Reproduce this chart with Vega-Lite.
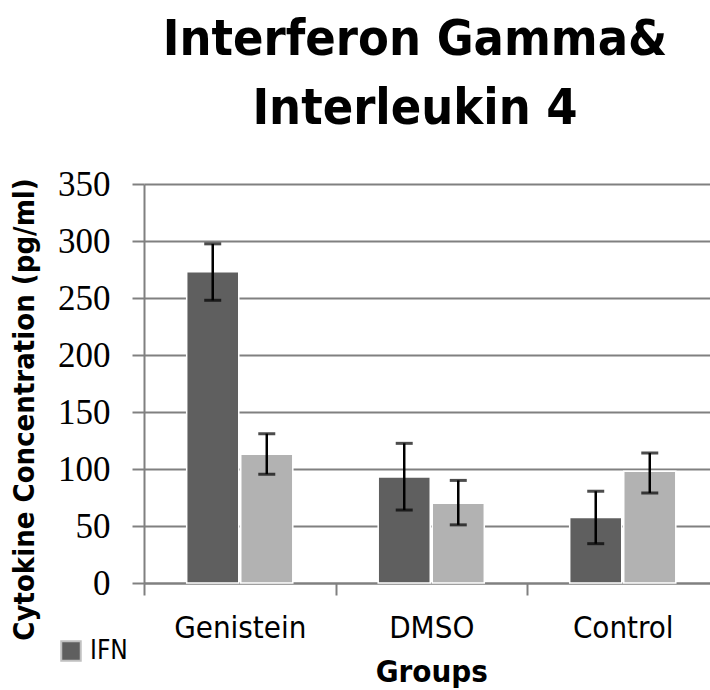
{
  "$schema": "https://vega.github.io/schema/vega-lite/v6.json",
  "autosize": {"type": "none"},
  "padding": {"left": 144, "top": 184, "right": 0, "bottom": 107},
  "width": 566,
  "height": 399,
  "background": "white",
  "title": {
    "text": ["Interferon Gamma&", "Interleukin 4"],
    "font": "DejaVu Sans Condensed, DejaVu Sans, sans-serif",
    "fontSize": 50,
    "fontWeight": "bold",
    "lineHeight": 69,
    "anchor": "middle",
    "frame": "group",
    "dx": -12,
    "dy": -13,
    "offset": 20,
    "color": "#000000"
  },
  "data": {
    "values": [
      {"group": "Genistein", "cytokine": "IFN", "value": 273, "lo": 248, "hi": 297.5},
      {"group": "Genistein", "cytokine": "IL-4", "value": 113, "lo": 95.5, "hi": 131},
      {"group": "DMSO", "cytokine": "IFN", "value": 93, "lo": 64, "hi": 122.5},
      {"group": "DMSO", "cytokine": "IL-4", "value": 70, "lo": 51, "hi": 90},
      {"group": "Control", "cytokine": "IFN", "value": 57.5, "lo": 34.5, "hi": 80.5},
      {"group": "Control", "cytokine": "IL-4", "value": 98, "lo": 79, "hi": 114}
    ]
  },
  "encoding": {
    "x": {
      "field": "group",
      "type": "nominal",
      "sort": ["Genistein", "DMSO", "Control"],
      "scale": {"range": [0, 574.5], "paddingInner": 0, "paddingOuter": 0},
      "axis": {
        "title": "Groups",
        "labelAngle": 0,
        "tickBand": "extent",
        "domainColor": "#808080",
        "domainWidth": 2,
        "tickColor": "#808080",
        "tickWidth": 2,
        "tickSize": 12,
        "labelPadding": 18,
        "labelFont": "DejaVu Sans Condensed, DejaVu Sans, sans-serif",
        "labelFontSize": 31,
        "labelColor": "#000000",
        "titleFont": "DejaVu Sans Condensed, DejaVu Sans, sans-serif",
        "titleFontSize": 31,
        "titleFontWeight": "bold",
        "titleColor": "#000000",
        "titlePadding": 14,
        "titleAnchor": "middle"
      }
    },
    "xOffset": {
      "field": "cytokine",
      "type": "nominal",
      "scale": {"paddingInner": 0.037, "paddingOuter": 0.79}
    }
  },
  "layer": [
    {
      "mark": {"type": "bar", "stroke": "#ffffff", "strokeWidth": 1.5},
      "encoding": {
        "y": {
          "field": "value",
          "type": "quantitative",
          "scale": {"domain": [0, 350]},
          "axis": {
            "title": "Cytokine Concentration (pg/ml)",
            "values": [0, 50, 100, 150, 200, 250, 300, 350],
            "grid": true,
            "gridColor": "#808080",
            "gridWidth": 2,
            "gridOpacity": 1,
            "domainColor": "#808080",
            "domainWidth": 2,
            "tickColor": "#808080",
            "tickWidth": 2,
            "tickSize": 12,
            "labelPadding": 22,
            "labelFont": "Liberation Serif, serif",
            "labelFontSize": 35,
            "labelColor": "#000000",
            "titleFont": "DejaVu Sans Condensed, DejaVu Sans, sans-serif",
            "titleFontSize": 29,
            "titleFontWeight": "bold",
            "titleColor": "#000000",
            "titlePadding": 18,
            "titleY": 225
          }
        },
        "color": {
          "field": "cytokine",
          "type": "nominal",
          "scale": {"domain": ["IFN", "IL-4"], "range": ["#5f5f5f", "#b2b2b2"]},
          "legend": {
            "values": ["IFN"],
            "title": null,
            "orient": "none",
            "legendX": -86,
            "legendY": 454,
            "symbolType": "square",
            "symbolSize": 380,
            "symbolStrokeColor": "#c0c0c0",
            "symbolStrokeWidth": 2,
            "labelFont": "DejaVu Sans Condensed, DejaVu Sans, sans-serif",
            "labelFontSize": 26,
            "labelColor": "#000000",
            "labelOffset": 6
          }
        }
      }
    },
    {
      "mark": {"type": "rule", "color": "#000000", "strokeWidth": 2.5},
      "encoding": {
        "y": {"field": "lo", "type": "quantitative"},
        "y2": {"field": "hi"}
      }
    },
    {
      "mark": {"type": "tick", "color": "#000000", "thickness": 3, "size": 17},
      "encoding": {"y": {"field": "lo", "type": "quantitative"}}
    },
    {
      "mark": {"type": "tick", "color": "#000000", "thickness": 3, "size": 17},
      "encoding": {"y": {"field": "hi", "type": "quantitative"}}
    }
  ],
  "config": {"view": {"stroke": null}}
}
